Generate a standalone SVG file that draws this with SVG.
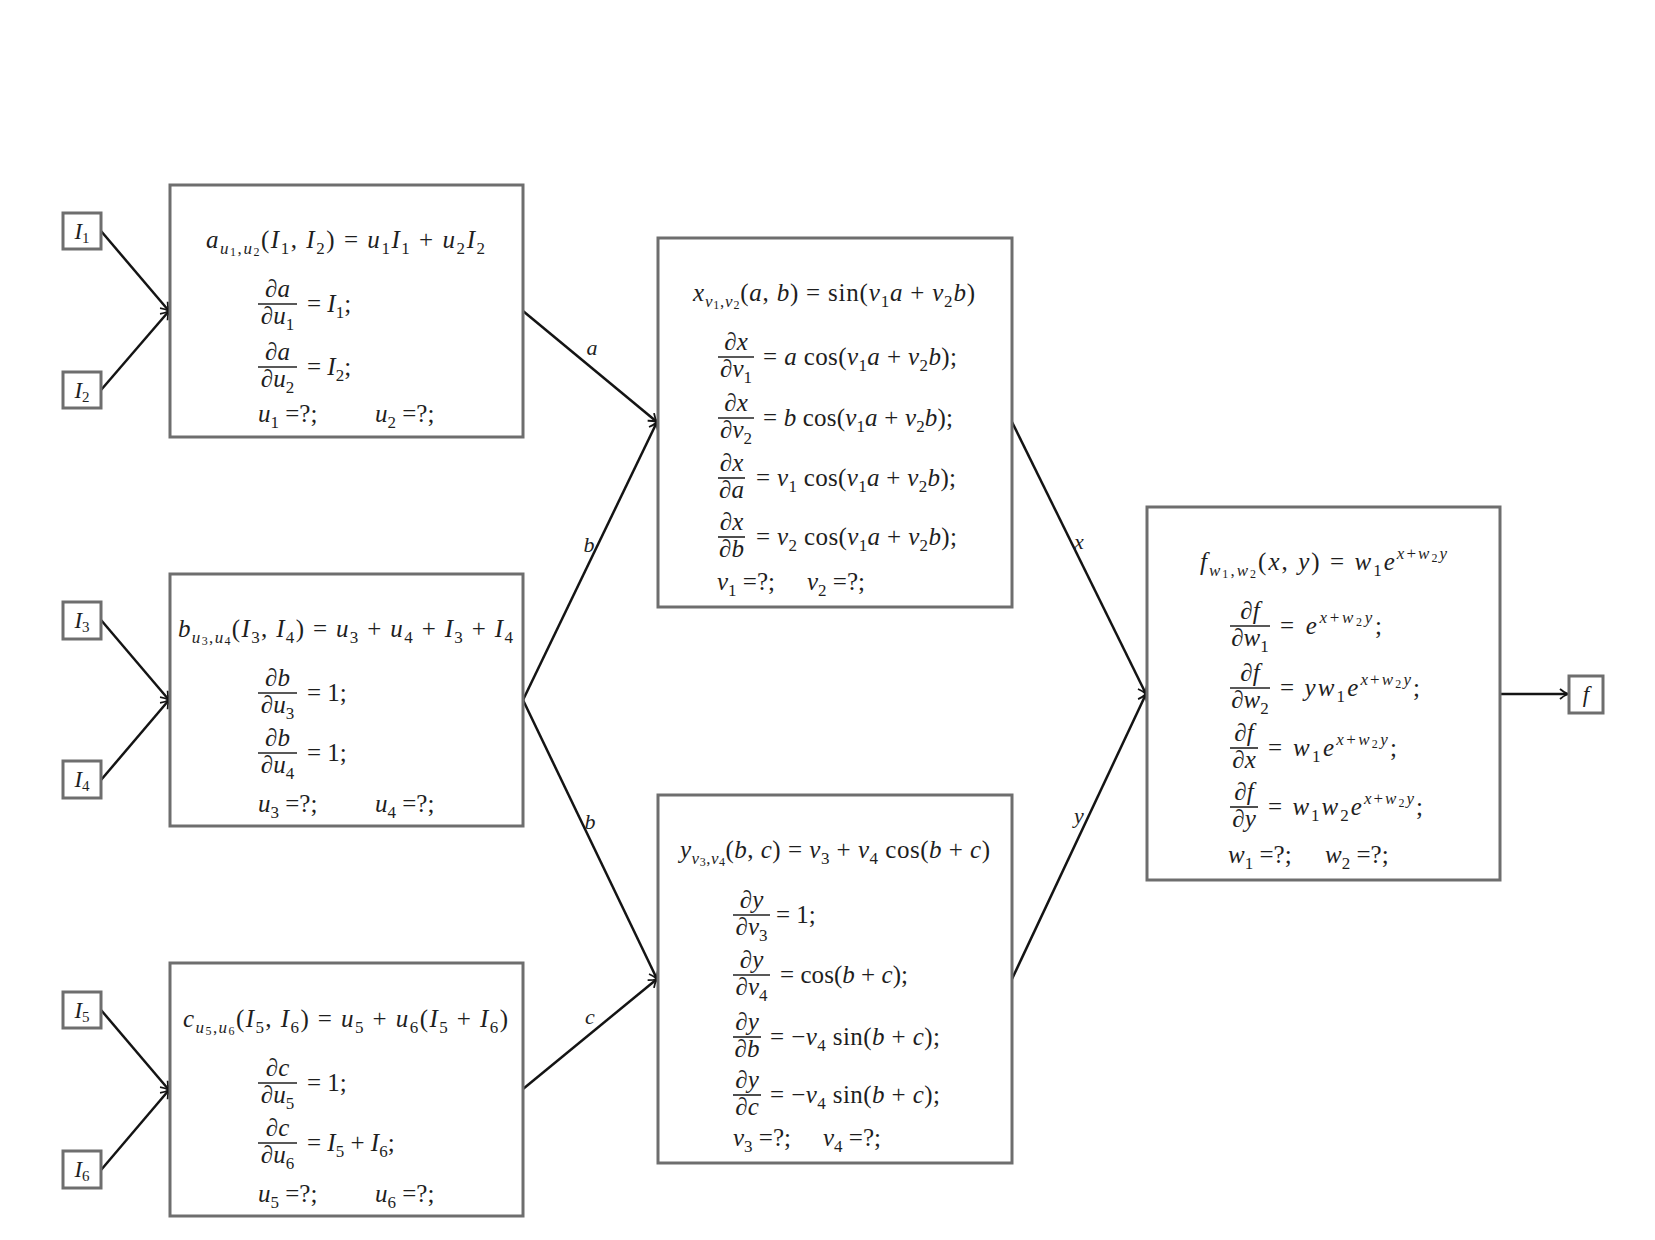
<svg xmlns="http://www.w3.org/2000/svg" width="1655" height="1240" viewBox="0 0 1655 1240">
  <style>
    text { font-family: "Liberation Serif", "DejaVu Serif", serif; font-size: 25px; fill: #1e1e1e; }
    .i { font-style: italic; }
    .s { font-size: 17px; }
    .ss { font-size: 12px; }
    .c { text-anchor: middle; }
    .box { fill: #fff; stroke: #6e6e6e; stroke-width: 3; }
    .pin { fill: #fff; stroke: #6e6e6e; stroke-width: 3; }
    .pin-t { font-size: 23px; }
    .pin-s { font-size: 15px; }
    .bar { stroke: #222; stroke-width: 1.6; }
    .edge { stroke: #141414; stroke-width: 2.5; fill: none; marker-end: url(#tip); }
    .lbl { font-style: italic; font-size: 22px; text-anchor: middle; }
  </style>
  <defs>
    <marker id="tip" markerUnits="userSpaceOnUse" markerWidth="14" markerHeight="14" viewBox="-10 -7 12 14" refX="0" refY="0" orient="auto">
      <path d="M-8,-5 C-5,-2.4 -2,-0.8 0,0 C-2,0.8 -5,2.4 -8,5" fill="none" stroke="#141414" stroke-width="1.8"/>
    </marker>
  </defs>
  <rect width="1655" height="1240" fill="#fff"/>

  <!-- connectors -->
  <g id="edges">
    <line class="edge" x1="101" y1="231" x2="169" y2="311"/>
    <line class="edge" x1="101" y1="390" x2="169" y2="311"/>
    <line class="edge" x1="101" y1="620" x2="169" y2="700"/>
    <line class="edge" x1="101" y1="780" x2="169" y2="700"/>
    <line class="edge" x1="101" y1="1010" x2="169" y2="1090"/>
    <line class="edge" x1="101" y1="1170" x2="169" y2="1090"/>
    <line class="edge" x1="523" y1="311" x2="657" y2="422"/>
    <line class="edge" x1="523" y1="700" x2="657" y2="422"/>
    <line class="edge" x1="523" y1="700" x2="657" y2="979"/>
    <line class="edge" x1="523" y1="1089" x2="657" y2="979"/>
    <line class="edge" x1="1012" y1="422" x2="1146" y2="694"/>
    <line class="edge" x1="1012" y1="979" x2="1146" y2="694"/>
    <line class="edge" x1="1500" y1="694" x2="1568" y2="694"/>
    <text class="lbl" x="592" y="355">a</text>
    <text class="lbl" x="589" y="552">b</text>
    <text class="lbl" x="590" y="829">b</text>
    <text class="lbl" x="590" y="1024">c</text>
    <text class="lbl" x="1079" y="549">x</text>
    <text class="lbl" x="1079" y="823">y</text>
  </g>

  <!-- inputs -->
  <g id="in-I1"><rect class="pin" x="63" y="213" width="38" height="36"/><text class="c pin-t" x="82" y="239"><tspan class="i">I</tspan><tspan class="pin-s" dy="4">1</tspan></text></g>
  <g id="in-I2"><rect class="pin" x="63" y="372" width="38" height="36"/><text class="c pin-t" x="82" y="398"><tspan class="i">I</tspan><tspan class="pin-s" dy="4">2</tspan></text></g>
  <g id="in-I3"><rect class="pin" x="63" y="602" width="38" height="37"/><text class="c pin-t" x="82" y="628"><tspan class="i">I</tspan><tspan class="pin-s" dy="4">3</tspan></text></g>
  <g id="in-I4"><rect class="pin" x="63" y="761" width="38" height="37"/><text class="c pin-t" x="82" y="787"><tspan class="i">I</tspan><tspan class="pin-s" dy="4">4</tspan></text></g>
  <g id="in-I5"><rect class="pin" x="63" y="992" width="38" height="36"/><text class="c pin-t" x="82" y="1018"><tspan class="i">I</tspan><tspan class="pin-s" dy="4">5</tspan></text></g>
  <g id="in-I6"><rect class="pin" x="63" y="1151" width="38" height="37"/><text class="c pin-t" x="82" y="1177"><tspan class="i">I</tspan><tspan class="pin-s" dy="4">6</tspan></text></g>

  <!-- node a -->
  <g id="node-a">
    <rect class="box" x="170" y="185" width="353" height="252"/>
    <text x="206" y="248" textLength="279" lengthAdjust="spacing"><tspan class="i">a</tspan><tspan class="s i" dy="6">u</tspan><tspan class="ss" dy="2">1</tspan><tspan class="s" dy="-2">,</tspan><tspan class="s i">u</tspan><tspan class="ss" dy="2">2</tspan><tspan dy="-8">(</tspan><tspan class="i">I</tspan><tspan class="s" dy="6">1</tspan><tspan dy="-6">, </tspan><tspan class="i">I</tspan><tspan class="s" dy="6">2</tspan><tspan dy="-6">) = </tspan><tspan class="i">u</tspan><tspan class="s" dy="6">1</tspan><tspan class="i" dy="-6">I</tspan><tspan class="s" dy="6">1</tspan><tspan dy="-6"> + </tspan><tspan class="i">u</tspan><tspan class="s" dy="6">2</tspan><tspan class="i" dy="-6">I</tspan><tspan class="s" dy="6">2</tspan></text>
    <text class="c" x="277.5" y="297">∂<tspan class="i">a</tspan></text>
    <line class="bar" x1="258" y1="304" x2="297" y2="304"/>
    <text class="c" x="277.5" y="324">∂<tspan class="i">u</tspan><tspan class="s" dy="6">1</tspan></text>
    <text x="307" y="312">= <tspan class="i">I</tspan><tspan class="s" dy="6">1</tspan><tspan dy="-6">;</tspan></text>
    <text class="c" x="277.5" y="360">∂<tspan class="i">a</tspan></text>
    <line class="bar" x1="258" y1="367" x2="297" y2="367"/>
    <text class="c" x="277.5" y="387">∂<tspan class="i">u</tspan><tspan class="s" dy="6">2</tspan></text>
    <text x="307" y="375">= <tspan class="i">I</tspan><tspan class="s" dy="6">2</tspan><tspan dy="-6">;</tspan></text>
    <text x="258" y="422"><tspan class="i">u</tspan><tspan class="s" dy="6">1</tspan><tspan dy="-6"> =?;</tspan></text>
    <text x="375" y="422"><tspan class="i">u</tspan><tspan class="s" dy="6">2</tspan><tspan dy="-6"> =?;</tspan></text>
  </g>

  <!-- node b -->
  <g id="node-b">
    <rect class="box" x="170" y="574" width="353" height="252"/>
    <text x="178" y="637" textLength="335" lengthAdjust="spacing"><tspan class="i">b</tspan><tspan class="s i" dy="6">u</tspan><tspan class="ss" dy="2">3</tspan><tspan class="s" dy="-2">,</tspan><tspan class="s i">u</tspan><tspan class="ss" dy="2">4</tspan><tspan dy="-8">(</tspan><tspan class="i">I</tspan><tspan class="s" dy="6">3</tspan><tspan dy="-6">, </tspan><tspan class="i">I</tspan><tspan class="s" dy="6">4</tspan><tspan dy="-6">) = </tspan><tspan class="i">u</tspan><tspan class="s" dy="6">3</tspan><tspan dy="-6"> + </tspan><tspan class="i">u</tspan><tspan class="s" dy="6">4</tspan><tspan dy="-6"> + </tspan><tspan class="i">I</tspan><tspan class="s" dy="6">3</tspan><tspan dy="-6"> + </tspan><tspan class="i">I</tspan><tspan class="s" dy="6">4</tspan></text>
    <text class="c" x="277.5" y="686">∂<tspan class="i">b</tspan></text>
    <line class="bar" x1="258" y1="693" x2="297" y2="693"/>
    <text class="c" x="277.5" y="713">∂<tspan class="i">u</tspan><tspan class="s" dy="6">3</tspan></text>
    <text x="307" y="701">= 1;</text>
    <text class="c" x="277.5" y="746">∂<tspan class="i">b</tspan></text>
    <line class="bar" x1="258" y1="753" x2="297" y2="753"/>
    <text class="c" x="277.5" y="773">∂<tspan class="i">u</tspan><tspan class="s" dy="6">4</tspan></text>
    <text x="307" y="761">= 1;</text>
    <text x="258" y="812"><tspan class="i">u</tspan><tspan class="s" dy="6">3</tspan><tspan dy="-6"> =?;</tspan></text>
    <text x="375" y="812"><tspan class="i">u</tspan><tspan class="s" dy="6">4</tspan><tspan dy="-6"> =?;</tspan></text>
  </g>

  <!-- node c -->
  <g id="node-c">
    <rect class="box" x="170" y="963" width="353" height="253"/>
    <text x="183" y="1027" textLength="325" lengthAdjust="spacing"><tspan class="i">c</tspan><tspan class="s i" dy="6">u</tspan><tspan class="ss" dy="2">5</tspan><tspan class="s" dy="-2">,</tspan><tspan class="s i">u</tspan><tspan class="ss" dy="2">6</tspan><tspan dy="-8">(</tspan><tspan class="i">I</tspan><tspan class="s" dy="6">5</tspan><tspan dy="-6">, </tspan><tspan class="i">I</tspan><tspan class="s" dy="6">6</tspan><tspan dy="-6">) = </tspan><tspan class="i">u</tspan><tspan class="s" dy="6">5</tspan><tspan dy="-6"> + </tspan><tspan class="i">u</tspan><tspan class="s" dy="6">6</tspan><tspan dy="-6">(</tspan><tspan class="i">I</tspan><tspan class="s" dy="6">5</tspan><tspan dy="-6"> + </tspan><tspan class="i">I</tspan><tspan class="s" dy="6">6</tspan><tspan dy="-6">)</tspan></text>
    <text class="c" x="277.5" y="1076">∂<tspan class="i">c</tspan></text>
    <line class="bar" x1="258" y1="1083" x2="297" y2="1083"/>
    <text class="c" x="277.5" y="1103">∂<tspan class="i">u</tspan><tspan class="s" dy="6">5</tspan></text>
    <text x="307" y="1091">= 1;</text>
    <text class="c" x="277.5" y="1136">∂<tspan class="i">c</tspan></text>
    <line class="bar" x1="258" y1="1143" x2="297" y2="1143"/>
    <text class="c" x="277.5" y="1163">∂<tspan class="i">u</tspan><tspan class="s" dy="6">6</tspan></text>
    <text x="307" y="1151">= <tspan class="i">I</tspan><tspan class="s" dy="6">5</tspan><tspan dy="-6"> + </tspan><tspan class="i">I</tspan><tspan class="s" dy="6">6</tspan><tspan dy="-6">;</tspan></text>
    <text x="258" y="1202"><tspan class="i">u</tspan><tspan class="s" dy="6">5</tspan><tspan dy="-6"> =?;</tspan></text>
    <text x="375" y="1202"><tspan class="i">u</tspan><tspan class="s" dy="6">6</tspan><tspan dy="-6"> =?;</tspan></text>
  </g>

  <!-- node x -->
  <g id="node-x">
    <rect class="box" x="658" y="238" width="354" height="369"/>
    <text x="693" y="301" textLength="282" lengthAdjust="spacing"><tspan class="i">x</tspan><tspan class="s i" dy="6">v</tspan><tspan class="ss" dy="2">1</tspan><tspan class="s" dy="-2">,</tspan><tspan class="s i">v</tspan><tspan class="ss" dy="2">2</tspan><tspan dy="-8">(</tspan><tspan class="i">a</tspan>, <tspan class="i">b</tspan>) = sin(<tspan class="i">v</tspan><tspan class="s" dy="6">1</tspan><tspan class="i" dy="-6">a</tspan> + <tspan class="i">v</tspan><tspan class="s" dy="6">2</tspan><tspan class="i" dy="-6">b</tspan>)</text>
    <text class="c" x="736" y="350">∂<tspan class="i">x</tspan></text>
    <line class="bar" x1="718" y1="357" x2="754" y2="357"/>
    <text class="c" x="736" y="377">∂<tspan class="i">v</tspan><tspan class="s" dy="6">1</tspan></text>
    <text x="763" y="365" textLength="194" lengthAdjust="spacing">= <tspan class="i">a</tspan> cos(<tspan class="i">v</tspan><tspan class="s" dy="6">1</tspan><tspan class="i" dy="-6">a</tspan> + <tspan class="i">v</tspan><tspan class="s" dy="6">2</tspan><tspan class="i" dy="-6">b</tspan>);</text>
    <text class="c" x="736" y="411">∂<tspan class="i">x</tspan></text>
    <line class="bar" x1="718" y1="418" x2="754" y2="418"/>
    <text class="c" x="736" y="438">∂<tspan class="i">v</tspan><tspan class="s" dy="6">2</tspan></text>
    <text x="763" y="426" textLength="190" lengthAdjust="spacing">= <tspan class="i">b</tspan> cos(<tspan class="i">v</tspan><tspan class="s" dy="6">1</tspan><tspan class="i" dy="-6">a</tspan> + <tspan class="i">v</tspan><tspan class="s" dy="6">2</tspan><tspan class="i" dy="-6">b</tspan>);</text>
    <text class="c" x="731.5" y="471">∂<tspan class="i">x</tspan></text>
    <line class="bar" x1="718" y1="478" x2="745" y2="478"/>
    <text class="c" x="731.5" y="498">∂<tspan class="i">a</tspan></text>
    <text x="756" y="486" textLength="200" lengthAdjust="spacing">= <tspan class="i">v</tspan><tspan class="s" dy="6">1</tspan><tspan dy="-6"> cos(</tspan><tspan class="i">v</tspan><tspan class="s" dy="6">1</tspan><tspan class="i" dy="-6">a</tspan> + <tspan class="i">v</tspan><tspan class="s" dy="6">2</tspan><tspan class="i" dy="-6">b</tspan>);</text>
    <text class="c" x="731.5" y="530">∂<tspan class="i">x</tspan></text>
    <line class="bar" x1="718" y1="537" x2="745" y2="537"/>
    <text class="c" x="731.5" y="557">∂<tspan class="i">b</tspan></text>
    <text x="756" y="545" textLength="201" lengthAdjust="spacing">= <tspan class="i">v</tspan><tspan class="s" dy="6">2</tspan><tspan dy="-6"> cos(</tspan><tspan class="i">v</tspan><tspan class="s" dy="6">1</tspan><tspan class="i" dy="-6">a</tspan> + <tspan class="i">v</tspan><tspan class="s" dy="6">2</tspan><tspan class="i" dy="-6">b</tspan>);</text>
    <text x="717" y="590"><tspan class="i">v</tspan><tspan class="s" dy="6">1</tspan><tspan dy="-6"> =?;</tspan></text>
    <text x="807" y="590"><tspan class="i">v</tspan><tspan class="s" dy="6">2</tspan><tspan dy="-6"> =?;</tspan></text>
  </g>

  <!-- node y -->
  <g id="node-y">
    <rect class="box" x="658" y="795" width="354" height="368"/>
    <text x="680" y="858" textLength="310" lengthAdjust="spacing"><tspan class="i">y</tspan><tspan class="s i" dy="6">v</tspan><tspan class="ss" dy="2">3</tspan><tspan class="s" dy="-2">,</tspan><tspan class="s i">v</tspan><tspan class="ss" dy="2">4</tspan><tspan dy="-8">(</tspan><tspan class="i">b</tspan>, <tspan class="i">c</tspan>) = <tspan class="i">v</tspan><tspan class="s" dy="6">3</tspan><tspan dy="-6"> + </tspan><tspan class="i">v</tspan><tspan class="s" dy="6">4</tspan><tspan dy="-6"> cos(</tspan><tspan class="i">b</tspan> + <tspan class="i">c</tspan>)</text>
    <text class="c" x="751.5" y="908">∂<tspan class="i">y</tspan></text>
    <line class="bar" x1="733" y1="915" x2="770" y2="915"/>
    <text class="c" x="751.5" y="935">∂<tspan class="i">v</tspan><tspan class="s" dy="6">3</tspan></text>
    <text x="776" y="923">= 1;</text>
    <text class="c" x="751.5" y="968">∂<tspan class="i">y</tspan></text>
    <line class="bar" x1="733" y1="975" x2="770" y2="975"/>
    <text class="c" x="751.5" y="995">∂<tspan class="i">v</tspan><tspan class="s" dy="6">4</tspan></text>
    <text x="780" y="983" textLength="128" lengthAdjust="spacing">= cos(<tspan class="i">b</tspan> + <tspan class="i">c</tspan>);</text>
    <text class="c" x="747" y="1030">∂<tspan class="i">y</tspan></text>
    <line class="bar" x1="733" y1="1037" x2="761" y2="1037"/>
    <text class="c" x="747" y="1057">∂<tspan class="i">b</tspan></text>
    <text x="770" y="1045" textLength="170" lengthAdjust="spacing">= −<tspan class="i">v</tspan><tspan class="s" dy="6">4</tspan><tspan dy="-6"> sin(</tspan><tspan class="i">b</tspan> + <tspan class="i">c</tspan>);</text>
    <text class="c" x="747" y="1088">∂<tspan class="i">y</tspan></text>
    <line class="bar" x1="733" y1="1095" x2="761" y2="1095"/>
    <text class="c" x="747" y="1115">∂<tspan class="i">c</tspan></text>
    <text x="770" y="1103" textLength="170" lengthAdjust="spacing">= −<tspan class="i">v</tspan><tspan class="s" dy="6">4</tspan><tspan dy="-6"> sin(</tspan><tspan class="i">b</tspan> + <tspan class="i">c</tspan>);</text>
    <text x="733" y="1146"><tspan class="i">v</tspan><tspan class="s" dy="6">3</tspan><tspan dy="-6"> =?;</tspan></text>
    <text x="823" y="1146"><tspan class="i">v</tspan><tspan class="s" dy="6">4</tspan><tspan dy="-6"> =?;</tspan></text>
  </g>

  <!-- node f -->
  <g id="node-f">
    <rect class="box" x="1147" y="507" width="353" height="373"/>
    <text x="1200" y="570" textLength="247" lengthAdjust="spacing"><tspan class="i">f</tspan><tspan class="s i" dy="6">w</tspan><tspan class="ss" dy="2">1</tspan><tspan class="s" dy="-2">,</tspan><tspan class="s i">w</tspan><tspan class="ss" dy="2">2</tspan><tspan dy="-8">(</tspan><tspan class="i">x</tspan>, <tspan class="i">y</tspan>) = <tspan class="i">w</tspan><tspan class="s" dy="6">1</tspan><tspan class="i" dy="-6">e</tspan><tspan class="s i" dy="-11">x</tspan><tspan class="s">+</tspan><tspan class="s i">w</tspan><tspan class="ss" dy="3">2</tspan><tspan class="s i" dy="-3">y</tspan></text>
    <text class="c" x="1250" y="619">∂<tspan class="i">f</tspan></text>
    <line class="bar" x1="1230" y1="626" x2="1270" y2="626"/>
    <text class="c" x="1250" y="646">∂<tspan class="i">w</tspan><tspan class="s" dy="6">1</tspan></text>
    <text x="1280" y="634" textLength="102" lengthAdjust="spacing">= <tspan class="i">e</tspan><tspan class="s i" dy="-11">x</tspan><tspan class="s">+</tspan><tspan class="s i">w</tspan><tspan class="ss" dy="3">2</tspan><tspan class="s i" dy="-3">y</tspan><tspan dy="11">;</tspan></text>
    <text class="c" x="1250" y="681">∂<tspan class="i">f</tspan></text>
    <line class="bar" x1="1230" y1="688" x2="1270" y2="688"/>
    <text class="c" x="1250" y="708">∂<tspan class="i">w</tspan><tspan class="s" dy="6">2</tspan></text>
    <text x="1280" y="696" textLength="140" lengthAdjust="spacing">= <tspan class="i">yw</tspan><tspan class="s" dy="6">1</tspan><tspan class="i" dy="-6">e</tspan><tspan class="s i" dy="-11">x</tspan><tspan class="s">+</tspan><tspan class="s i">w</tspan><tspan class="ss" dy="3">2</tspan><tspan class="s i" dy="-3">y</tspan><tspan dy="11">;</tspan></text>
    <text class="c" x="1244" y="741">∂<tspan class="i">f</tspan></text>
    <line class="bar" x1="1230" y1="748" x2="1258" y2="748"/>
    <text class="c" x="1244" y="768">∂<tspan class="i">x</tspan></text>
    <text x="1268" y="756" textLength="129" lengthAdjust="spacing">= <tspan class="i">w</tspan><tspan class="s" dy="6">1</tspan><tspan class="i" dy="-6">e</tspan><tspan class="s i" dy="-11">x</tspan><tspan class="s">+</tspan><tspan class="s i">w</tspan><tspan class="ss" dy="3">2</tspan><tspan class="s i" dy="-3">y</tspan><tspan dy="11">;</tspan></text>
    <text class="c" x="1244" y="800">∂<tspan class="i">f</tspan></text>
    <line class="bar" x1="1230" y1="807" x2="1258" y2="807"/>
    <text class="c" x="1244" y="827">∂<tspan class="i">y</tspan></text>
    <text x="1268" y="815" textLength="155" lengthAdjust="spacing">= <tspan class="i">w</tspan><tspan class="s" dy="6">1</tspan><tspan class="i" dy="-6">w</tspan><tspan class="s" dy="6">2</tspan><tspan class="i" dy="-6">e</tspan><tspan class="s i" dy="-11">x</tspan><tspan class="s">+</tspan><tspan class="s i">w</tspan><tspan class="ss" dy="3">2</tspan><tspan class="s i" dy="-3">y</tspan><tspan dy="11">;</tspan></text>
    <text x="1228" y="863"><tspan class="i">w</tspan><tspan class="s" dy="6">1</tspan><tspan dy="-6"> =?;</tspan></text>
    <text x="1325" y="863"><tspan class="i">w</tspan><tspan class="s" dy="6">2</tspan><tspan dy="-6"> =?;</tspan></text>
  </g>

  <!-- output -->
  <g id="out-f"><rect class="pin" x="1569" y="676" width="34" height="37"/><text class="c pin-t i" x="1586" y="702">f</text></g>
</svg>
